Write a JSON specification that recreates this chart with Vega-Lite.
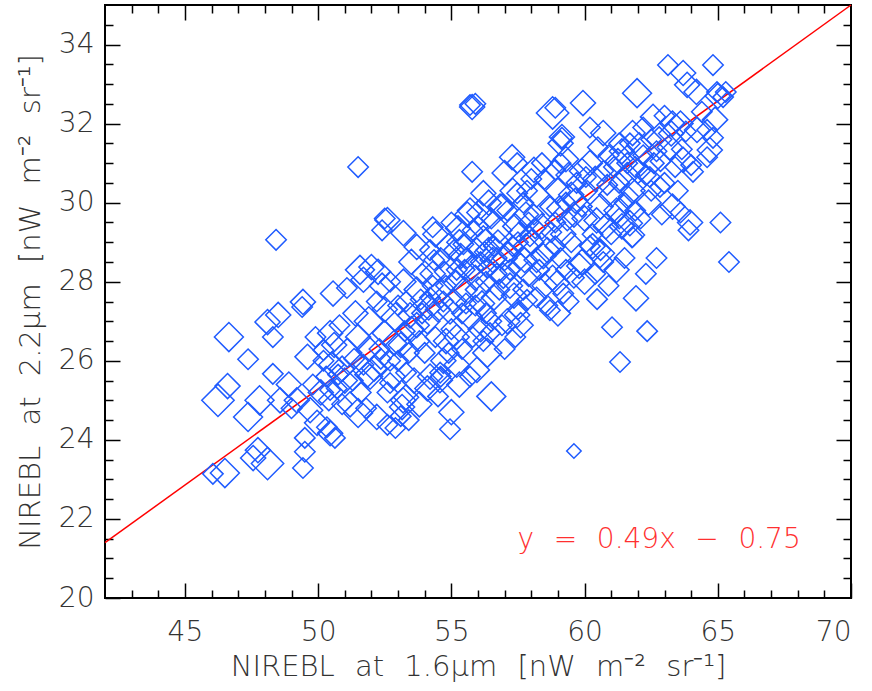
{
  "$schema": "https://vega.github.io/schema/vega-lite/v5.json",
  "width": 746,
  "height": 593,
  "autosize": "none",
  "padding": {"left": 105, "top": 5, "right": 21, "bottom": 93},
  "config": {
    "view": {"stroke": "#000", "strokeWidth": 2},
    "axis": {
      "grid": false, "domain": false,
      "labelFont": "DejaVu Sans", "labelFontWeight": 200, "labelFontSize": 28, "labelColor": "#333",
      "titleFont": "DejaVu Sans", "titleFontWeight": 200, "titleFontSize": 29, "titleColor": "#333",
      "tickColor": "#000", "tickWidth": 1.5
    }
  },
  "datasets": {
    "fit": [{"x": 42, "y": 21.4}, {"x": 70, "y": 35}],
    "note": [{"x": 62.8, "y": 21.47, "label": "y\u2002\u2009=\u2002\u20090.49x\u2002\u2009−\u2002\u20090.75"}],
    "obs": [
      {"x":46.05,"y":23.14,"w":2},{"x":46.5,"y":23.16,"w":4},{"x":46.6,"y":25.36,"w":3},{"x":46.24,"y":25.0,"w":5},
      {"x":46.65,"y":26.6,"w":4},{"x":47.37,"y":26.04,"w":2},{"x":47.37,"y":24.58,"w":4},{"x":47.8,"y":25.0,"w":4},
      {"x":48.57,"y":25.0,"w":3},{"x":48.1,"y":23.4,"w":5},{"x":47.74,"y":23.74,"w":3},{"x":47.56,"y":23.54,"w":3},
      {"x":48.3,"y":25.67,"w":2},{"x":48.3,"y":26.6,"w":2},{"x":48.5,"y":27.16,"w":3},{"x":48.1,"y":26.98,"w":3},
      {"x":48.42,"y":29.06,"w":2},{"x":49.43,"y":27.49,"w":3},{"x":49.4,"y":27.36,"w":2},{"x":49.43,"y":23.29,"w":2},
      {"x":49.5,"y":23.7,"w":2},{"x":49.5,"y":24.05,"w":2},{"x":50.45,"y":24.17,"w":3},{"x":50.63,"y":24.05,"w":2},
      {"x":50.33,"y":24.32,"w":2},{"x":49.96,"y":24.43,"w":3},{"x":49.7,"y":24.75,"w":3},{"x":49.2,"y":25.0,"w":3},
      {"x":48.9,"y":25.4,"w":3},{"x":49.0,"y":24.8,"w":2},{"x":50.45,"y":25.26,"w":2},{"x":51.5,"y":24.68,"w":4},
      {"x":52.2,"y":24.58,"w":3},{"x":52.6,"y":24.38,"w":2},{"x":54.95,"y":24.27,"w":2},{"x":53.19,"y":25.0,"w":3},
      {"x":53.15,"y":24.83,"w":3},{"x":53.3,"y":25.08,"w":3},{"x":54.2,"y":25.6,"w":3},{"x":54.58,"y":25.7,"w":2},
      {"x":51.95,"y":25.6,"w":3},{"x":52.7,"y":25.44,"w":2},{"x":50.2,"y":26.27,"w":2},{"x":50.45,"y":26.7,"w":3},
      {"x":50.56,"y":27.7,"w":3},{"x":51.08,"y":27.84,"w":2},{"x":51.57,"y":28.3,"w":4},{"x":52.0,"y":28.37,"w":3},
      {"x":52.25,"y":28.25,"w":3},{"x":51.7,"y":28.05,"w":3},{"x":51.5,"y":30.9,"w":2},{"x":52.5,"y":29.6,"w":2},
      {"x":52.4,"y":29.3,"w":2},{"x":52.6,"y":29.56,"w":3},{"x":53.2,"y":29.23,"w":3},{"x":54.3,"y":29.38,"w":2},
      {"x":53.7,"y":28.88,"w":3},{"x":55.78,"y":32.42,"w":3},{"x":55.7,"y":32.47,"w":2},{"x":55.9,"y":32.5,"w":2},
      {"x":58.8,"y":32.27,"w":5},{"x":59.15,"y":31.64,"w":2},{"x":59.1,"y":31.5,"w":3},{"x":55.78,"y":30.78,"w":2},
      {"x":57.28,"y":31.15,"w":3},{"x":57.47,"y":31.0,"w":2},{"x":57.0,"y":30.75,"w":3},{"x":58.1,"y":30.83,"w":3},
      {"x":58.9,"y":30.83,"w":2},{"x":59.3,"y":31.1,"w":3},{"x":56.2,"y":30.24,"w":3},{"x":55.7,"y":29.8,"w":3},
      {"x":56.83,"y":29.9,"w":3},{"x":57.47,"y":30.24,"w":2},{"x":57.84,"y":30.3,"w":2},{"x":58.2,"y":28.55,"w":3},
      {"x":56.5,"y":25.1,"w":4},{"x":56.35,"y":26.2,"w":4},{"x":55.96,"y":25.77,"w":3},{"x":56.45,"y":26.7,"w":2},
      {"x":57.47,"y":27.16,"w":3},{"x":58.7,"y":27.28,"w":2},{"x":58.97,"y":27.97,"w":3},{"x":59.2,"y":27.7,"w":2},
      {"x":57.84,"y":27.54,"w":2},{"x":54.57,"y":25.51,"w":3},{"x":64.82,"y":33.48,"w":2},{"x":63.13,"y":33.48,"w":2},
      {"x":63.7,"y":33.28,"w":3},{"x":63.85,"y":32.98,"w":3},{"x":64.2,"y":32.8,"w":3},{"x":65.2,"y":32.67,"w":2},
      {"x":64.97,"y":32.8,"w":2},{"x":61.97,"y":32.77,"w":4},{"x":59.94,"y":32.52,"w":3},{"x":58.9,"y":32.4,"w":2},
      {"x":64.22,"y":31.84,"w":3},{"x":64.6,"y":31.84,"w":2},{"x":64.82,"y":31.64,"w":2},{"x":64.7,"y":31.33,"w":3},
      {"x":64.6,"y":31.15,"w":2},{"x":62.57,"y":32.17,"w":3},{"x":63.0,"y":32.2,"w":2},{"x":63.3,"y":32.0,"w":3},
      {"x":60.2,"y":31.9,"w":2},{"x":59.15,"y":31.66,"w":3},{"x":60.7,"y":31.76,"w":3},{"x":61.8,"y":31.76,"w":3},
      {"x":62.2,"y":31.9,"w":2},{"x":62.5,"y":31.6,"w":2},{"x":62.7,"y":31.3,"w":2},{"x":61.3,"y":31.5,"w":2},
      {"x":63.7,"y":31.08,"w":3},{"x":64.0,"y":30.95,"w":2},{"x":64.07,"y":30.78,"w":2},{"x":63.3,"y":29.9,"w":3},
      {"x":63.6,"y":29.75,"w":2},{"x":63.96,"y":29.5,"w":3},{"x":65.1,"y":29.5,"w":2},{"x":65.42,"y":28.5,"w":2},
      {"x":62.83,"y":30.4,"w":2},{"x":62.5,"y":30.3,"w":2},{"x":61.7,"y":29.48,"w":3},{"x":61.3,"y":29.6,"w":2},
      {"x":61.8,"y":29.13,"w":2},{"x":62.3,"y":30.7,"w":2},{"x":61.6,"y":31.0,"w":2},{"x":61.2,"y":28.3,"w":3},
      {"x":60.47,"y":27.56,"w":2},{"x":61.93,"y":27.58,"w":3},{"x":61.03,"y":26.85,"w":2},{"x":62.35,"y":26.75,"w":2},
      {"x":61.33,"y":25.97,"w":2},{"x":59.6,"y":23.72,"w":1},{"x":63.9,"y":29.3,"w":2},{"x":61.78,"y":29.18,"w":3},
      {"x":60.58,"y":28.72,"w":4},{"x":60.7,"y":28.5,"w":2},{"x":60.3,"y":28.9,"w":3},{"x":59.9,"y":28.5,"w":3},
      {"x":50.1,"y":25.2,"w":3},{"x":50.3,"y":25.6,"w":2},{"x":50.5,"y":25.9,"w":3},{"x":50.7,"y":25.3,"w":2},
      {"x":50.9,"y":25.8,"w":3},{"x":51.1,"y":26.2,"w":4},{"x":51.3,"y":25.5,"w":2},{"x":51.5,"y":26.6,"w":3},
      {"x":51.7,"y":25.9,"w":2},{"x":51.9,"y":26.3,"w":3},{"x":50.2,"y":26.0,"w":2},{"x":50.6,"y":26.4,"w":3},
      {"x":50.9,"y":24.9,"w":2},{"x":51.2,"y":24.9,"w":3},{"x":51.6,"y":25.2,"w":2},{"x":50.8,"y":26.9,"w":2},
      {"x":51.4,"y":27.2,"w":3},{"x":51.9,"y":27.0,"w":4},{"x":50.4,"y":25.0,"w":2},{"x":49.8,"y":25.4,"w":2},
      {"x":49.6,"y":26.1,"w":3},{"x":49.9,"y":26.6,"w":2},{"x":51.0,"y":25.5,"w":3},{"x":51.8,"y":24.8,"w":2},
      {"x":52.1,"y":25.8,"w":3},{"x":52.3,"y":26.3,"w":2},{"x":52.5,"y":26.7,"w":3},{"x":52.7,"y":26.0,"w":2},
      {"x":52.9,"y":27.1,"w":4},{"x":53.1,"y":26.4,"w":3},{"x":53.3,"y":27.5,"w":2},{"x":53.5,"y":26.8,"w":3},
      {"x":53.7,"y":27.8,"w":3},{"x":53.9,"y":27.2,"w":2},{"x":52.2,"y":27.5,"w":2},{"x":52.4,"y":27.9,"w":3},
      {"x":52.6,"y":25.2,"w":2},{"x":52.8,"y":25.6,"w":3},{"x":53.0,"y":26.0,"w":2},{"x":53.2,"y":28.0,"w":3},
      {"x":53.4,"y":26.2,"w":2},{"x":53.6,"y":25.5,"w":3},{"x":53.8,"y":26.5,"w":2},{"x":53.0,"y":27.4,"w":2},
      {"x":52.7,"y":28.0,"w":2},{"x":53.5,"y":28.5,"w":3},{"x":53.9,"y":28.2,"w":2},{"x":53.3,"y":25.7,"w":2},
      {"x":53.7,"y":26.9,"w":3},{"x":52.5,"y":27.3,"w":3},{"x":53.1,"y":24.6,"w":2},{"x":53.8,"y":24.9,"w":3},
      {"x":52.9,"y":24.3,"w":2},{"x":53.4,"y":24.5,"w":2},
      {"x":54.0,"y":26.2,"w":2},{"x":54.1,"y":27.0,"w":3},{"x":54.2,"y":27.6,"w":2},{"x":54.3,"y":28.2,"w":3},
      {"x":54.4,"y":26.6,"w":2},{"x":54.5,"y":27.3,"w":3},{"x":54.6,"y":28.6,"w":2},{"x":54.7,"y":26.0,"w":3},
      {"x":54.8,"y":27.9,"w":2},{"x":54.9,"y":28.9,"w":3},{"x":55.0,"y":26.8,"w":2},{"x":55.1,"y":27.5,"w":3},
      {"x":55.2,"y":28.3,"w":2},{"x":55.3,"y":29.0,"w":3},{"x":55.4,"y":26.3,"w":2},{"x":55.5,"y":27.8,"w":3},
      {"x":55.6,"y":28.6,"w":2},{"x":55.7,"y":27.1,"w":3},{"x":55.8,"y":29.3,"w":2},{"x":55.9,"y":28.1,"w":3},
      {"x":54.2,"y":28.8,"w":2},{"x":54.4,"y":29.2,"w":3},{"x":54.6,"y":25.6,"w":2},{"x":54.8,"y":26.5,"w":3},
      {"x":55.0,"y":29.5,"w":2},{"x":55.2,"y":25.9,"w":3},{"x":55.4,"y":27.2,"w":2},{"x":55.6,"y":29.7,"w":3},
      {"x":55.8,"y":26.6,"w":2},{"x":54.3,"y":27.9,"w":2},{"x":54.7,"y":27.5,"w":2},{"x":55.1,"y":28.8,"w":2},
      {"x":55.5,"y":28.3,"w":2},{"x":55.9,"y":27.4,"w":2},{"x":54.1,"y":25.3,"w":3},{"x":54.5,"y":25.1,"w":2},
      {"x":55.3,"y":25.4,"w":3},{"x":55.7,"y":25.6,"w":2},{"x":55.2,"y":26.6,"w":3},{"x":54.9,"y":26.2,"w":2},
      {"x":55.0,"y":24.7,"w":3},
      {"x":56.0,"y":27.8,"w":3},{"x":56.1,"y":28.5,"w":2},{"x":56.2,"y":29.1,"w":3},{"x":56.3,"y":27.2,"w":2},
      {"x":56.4,"y":28.8,"w":3},{"x":56.5,"y":29.6,"w":2},{"x":56.6,"y":27.6,"w":3},{"x":56.7,"y":28.2,"w":2},
      {"x":56.8,"y":29.3,"w":3},{"x":56.9,"y":26.9,"w":2},{"x":57.0,"y":28.6,"w":3},{"x":57.1,"y":29.8,"w":2},
      {"x":57.2,"y":27.9,"w":3},{"x":57.3,"y":28.9,"w":2},{"x":57.4,"y":29.4,"w":3},{"x":57.5,"y":27.3,"w":2},
      {"x":57.6,"y":28.4,"w":3},{"x":57.7,"y":30.0,"w":2},{"x":57.8,"y":28.9,"w":3},{"x":57.9,"y":29.5,"w":2},
      {"x":56.2,"y":26.5,"w":2},{"x":56.5,"y":27.0,"w":2},{"x":56.8,"y":27.8,"w":2},{"x":57.1,"y":27.0,"w":3},
      {"x":57.4,"y":26.6,"w":2},{"x":57.7,"y":27.8,"w":2},{"x":56.3,"y":28.0,"w":2},{"x":56.6,"y":28.9,"w":2},
      {"x":56.9,"y":29.9,"w":3},{"x":57.2,"y":28.3,"w":2},{"x":57.5,"y":29.0,"w":2},{"x":57.8,"y":29.7,"w":3},
      {"x":56.0,"y":29.4,"w":2},{"x":56.4,"y":30.0,"w":3},{"x":56.1,"y":26.8,"w":3},{"x":57.0,"y":26.3,"w":2},
      {"x":57.3,"y":30.3,"w":3},{"x":57.9,"y":28.2,"w":3},{"x":56.7,"y":28.6,"w":2},{"x":57.6,"y":26.9,"w":3},
      {"x":58.0,"y":29.0,"w":3},{"x":58.1,"y":29.7,"w":2},{"x":58.2,"y":30.2,"w":3},{"x":58.3,"y":28.3,"w":2},
      {"x":58.4,"y":29.4,"w":3},{"x":58.5,"y":30.6,"w":2},{"x":58.6,"y":28.8,"w":3},{"x":58.7,"y":29.9,"w":2},
      {"x":58.8,"y":28.1,"w":3},{"x":58.9,"y":29.5,"w":2},{"x":59.0,"y":30.3,"w":3},{"x":59.1,"y":28.6,"w":2},
      {"x":59.2,"y":29.2,"w":3},{"x":59.3,"y":30.0,"w":2},{"x":59.4,"y":30.7,"w":3},{"x":59.5,"y":29.0,"w":2},
      {"x":59.6,"y":29.7,"w":3},{"x":59.7,"y":30.5,"w":2},{"x":59.8,"y":28.4,"w":3},{"x":59.9,"y":29.9,"w":2},
      {"x":58.2,"y":27.6,"w":2},{"x":58.5,"y":27.9,"w":3},{"x":58.9,"y":28.9,"w":2},{"x":59.3,"y":28.3,"w":2},
      {"x":59.6,"y":28.1,"w":2},{"x":59.9,"y":30.8,"w":3},{"x":58.4,"y":31.0,"w":2},{"x":58.0,"y":30.6,"w":2},
      {"x":59.1,"y":31.0,"w":2},{"x":59.5,"y":30.2,"w":3},{"x":58.6,"y":27.4,"w":2},{"x":59.0,"y":27.2,"w":3},
      {"x":59.4,"y":27.5,"w":2},
      {"x":60.0,"y":29.6,"w":3},{"x":60.1,"y":30.3,"w":2},{"x":60.2,"y":31.0,"w":3},{"x":60.3,"y":29.2,"w":2},
      {"x":60.4,"y":30.6,"w":3},{"x":60.5,"y":31.4,"w":2},{"x":60.6,"y":29.9,"w":3},{"x":60.7,"y":30.8,"w":2},
      {"x":60.8,"y":29.4,"w":3},{"x":60.9,"y":31.2,"w":2},{"x":61.0,"y":30.2,"w":3},{"x":61.1,"y":30.9,"w":2},
      {"x":61.2,"y":29.8,"w":3},{"x":61.3,"y":30.5,"w":2},{"x":61.4,"y":31.3,"w":3},{"x":61.5,"y":30.0,"w":2},
      {"x":61.6,"y":30.7,"w":3},{"x":61.7,"y":31.5,"w":2},{"x":61.8,"y":30.3,"w":3},{"x":61.9,"y":30.9,"w":2},
      {"x":60.2,"y":28.9,"w":2},{"x":60.6,"y":28.8,"w":2},{"x":61.0,"y":29.2,"w":2},{"x":61.4,"y":29.4,"w":3},
      {"x":61.9,"y":29.8,"w":2},{"x":60.4,"y":28.2,"w":2},{"x":60.9,"y":27.9,"w":2},{"x":61.5,"y":28.6,"w":2},
      {"x":60.0,"y":28.0,"w":3},
      {"x":62.0,"y":30.8,"w":3},{"x":62.2,"y":31.2,"w":2},{"x":62.4,"y":30.0,"w":3},{"x":62.6,"y":31.0,"w":2},
      {"x":62.8,"y":31.6,"w":3},{"x":63.0,"y":30.5,"w":2},{"x":63.2,"y":31.4,"w":3},{"x":63.4,"y":30.9,"w":2},
      {"x":63.6,"y":32.0,"w":3},{"x":63.8,"y":31.8,"w":2},{"x":62.1,"y":29.6,"w":2},{"x":62.9,"y":29.7,"w":2},
      {"x":63.5,"y":30.3,"w":2},{"x":62.7,"y":28.6,"w":2},{"x":62.3,"y":28.2,"w":2},{"x":64.4,"y":32.3,"w":2},
      {"x":64.9,"y":32.1,"w":3},{"x":65.0,"y":32.7,"w":3},{"x":65.3,"y":32.8,"w":2},
      {"x":54.15,"y":27.35,"w":3},{"x":54.35,"y":28.55,"w":2},{"x":54.55,"y":27.75,"w":3},{"x":54.75,"y":28.25,"w":2},
      {"x":54.95,"y":27.25,"w":3},{"x":55.15,"y":28.05,"w":2},{"x":55.35,"y":28.65,"w":3},{"x":55.55,"y":27.45,"w":2},
      {"x":55.75,"y":28.35,"w":3},{"x":55.95,"y":28.85,"w":2},{"x":56.15,"y":27.45,"w":3},{"x":56.35,"y":28.35,"w":2},
      {"x":56.55,"y":28.55,"w":3},{"x":56.75,"y":29.05,"w":2},{"x":56.95,"y":28.15,"w":3},{"x":57.15,"y":28.75,"w":2},
      {"x":57.35,"y":27.65,"w":3},{"x":57.55,"y":29.25,"w":2},{"x":57.75,"y":28.55,"w":3},{"x":57.95,"y":29.15,"w":2},
      {"x":55.25,"y":29.35,"w":3},{"x":55.45,"y":28.95,"w":2},{"x":56.05,"y":29.75,"w":3},{"x":56.25,"y":28.75,"w":2},
      {"x":53.85,"y":27.55,"w":2},{"x":53.45,"y":27.15,"w":3},{"x":53.25,"y":26.75,"w":2},{"x":52.85,"y":26.45,"w":3},
      {"x":52.35,"y":26.05,"w":2},{"x":51.85,"y":25.65,"w":3},{"x":51.35,"y":26.05,"w":2},{"x":50.75,"y":25.65,"w":2},
      {"x":58.15,"y":29.35,"w":2},{"x":58.45,"y":28.65,"w":3},{"x":58.75,"y":29.25,"w":2},{"x":59.05,"y":29.85,"w":3},
      {"x":59.35,"y":29.55,"w":2},{"x":59.65,"y":30.05,"w":3},{"x":60.05,"y":30.65,"w":2},{"x":60.45,"y":29.55,"w":3},
      {"x":60.85,"y":30.45,"w":2},{"x":61.25,"y":31.05,"w":3},{"x":61.65,"y":30.15,"w":2},{"x":62.05,"y":31.45,"w":3},
      {"x":62.45,"y":30.65,"w":2},{"x":62.85,"y":31.05,"w":2},{"x":63.25,"y":31.75,"w":3},{"x":63.65,"y":31.35,"w":2}
    ]
  },
  "layer": [
    {
      "data": {"name": "fit"},
      "mark": {"type": "line", "color": "#ff0000", "strokeWidth": 1.5},
      "encoding": {
        "x": {"field": "x", "type": "quantitative",
          "scale": {"domain": [42, 70], "nice": false, "zero": false},
          "axis": {"orient": "bottom", "labels": false, "title": null, "tickSize": -8,
            "values": [43,44,46,47,48,49,51,52,53,54,56,57,58,59,61,62,63,64,66,67,68,69]}},
        "y": {"field": "y", "type": "quantitative",
          "scale": {"domain": [20, 35], "nice": false, "zero": false},
          "axis": {"orient": "left", "labels": false, "title": null, "tickSize": -8,
            "values": [20.5,21,21.5,22.5,23,23.5,24.5,25,25.5,26.5,27,27.5,28.5,29,29.5,30.5,31,31.5,32.5,33,33.5,34.5]}}
      }
    },
    {
      "data": {"name": "obs"},
      "mark": {"type": "point", "shape": "diamond", "filled": false, "stroke": "#1f5bff", "strokeWidth": 1.5, "opacity": 1},
      "encoding": {
        "x": {"field": "x", "type": "quantitative",
          "axis": {"orient": "bottom", "tickSize": -15, "labelPadding": 35, "values": [45,50,55,60,65,70],
            "title": "NIREBL\u2002\u2009at\u2002\u20091.6μm\u2002\u2009[nW\u2002\u2009m⁻²\u2002\u2009sr⁻¹]", "titlePadding": 6}},
        "y": {"field": "y", "type": "quantitative",
          "axis": {"orient": "left", "tickSize": -15, "labelPadding": 26, "values": [20,22,24,26,28,30,32,34],
            "title": "NIREBL\u2002\u2009at\u2002\u20092.2μm\u2002\u2009[nW\u2002\u2009m⁻²\u2002\u2009sr⁻¹]", "titlePadding": 13}},
        "size": {"field": "w", "type": "quantitative", "scale": {"domain": [1, 5], "range": [210, 1050]}, "legend": null}
      }
    },
    {
      "data": {"name": "note"},
      "mark": {"type": "text", "font": "DejaVu Sans", "fontWeight": 200, "fontSize": 28, "color": "#ff3030", "align": "center", "baseline": "middle"},
      "encoding": {
        "x": {"field": "x", "type": "quantitative",
          "axis": {"orient": "top", "labels": false, "title": null, "tickSize": -15, "values": [45,50,55,60,65]}},
        "y": {"field": "y", "type": "quantitative",
          "axis": {"orient": "right", "labels": false, "title": null, "tickSize": -15, "values": [22,24,26,28,30,32,34]}},
        "text": {"field": "label"}
      }
    },
    {
      "data": {"name": "fit"},
      "mark": {"type": "point", "opacity": 0},
      "encoding": {
        "x": {"field": "x", "type": "quantitative",
          "axis": {"orient": "top", "labels": false, "title": null, "tickSize": -8,
            "values": [43,44,46,47,48,49,51,52,53,54,56,57,58,59,61,62,63,64,66,67,68,69]}},
        "y": {"field": "y", "type": "quantitative",
          "axis": {"orient": "right", "labels": false, "title": null, "tickSize": -8,
            "values": [20.5,21,21.5,22.5,23,23.5,24.5,25,25.5,26.5,27,27.5,28.5,29,29.5,30.5,31,31.5,32.5,33,33.5,34.5]}}
      }
    }
  ],
  "resolve": {"axis": {"x": "independent", "y": "independent"}}
}
